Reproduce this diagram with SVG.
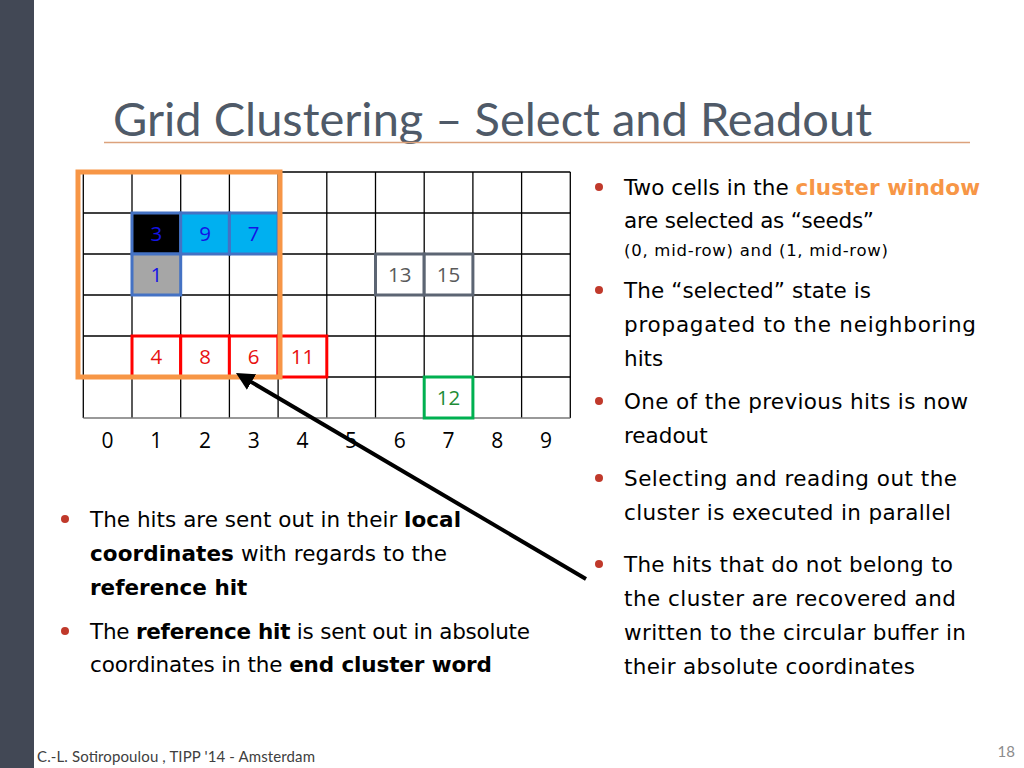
<svg xmlns="http://www.w3.org/2000/svg" width="1024" height="768" viewBox="0 0 1024 768">
<defs>
<style>
.body{font-family:"DejaVu Sans",sans-serif;font-size:21.5px;fill:#000}
.b{font-weight:bold}
.sm{font-size:16.5px}
.grid line{stroke:#000;stroke-width:1.3}
.num{font-family:"Open Sans","Liberation Sans",sans-serif;font-size:20.5px;text-anchor:middle}
.ax{font-family:"Open Sans","Liberation Sans",sans-serif;font-size:21px;text-anchor:middle;fill:#000}
.blue rect{stroke:#4472C4;stroke-width:3}
.blue text{fill:#1414E6}
.red rect{fill:#fff;stroke:#FF0000;stroke-width:3}
.red text{fill:#E81010}
.gray rect{fill:#fff;stroke:#5C6573;stroke-width:3}
.gray text{fill:#5A5A5A}
.dot{fill:#C0392B}
</style>
<marker id="ah" viewBox="0 0 10 10" refX="7" refY="5" markerWidth="4.5" markerHeight="4.5" orient="auto" markerUnits="strokeWidth">
<path d="M0,0 L10,5 L0,10 z" fill="#000"/>
</marker>
</defs>
<rect width="1024" height="768" fill="#fff"/>
<rect x="0" y="0" width="34" height="768" fill="#424855"/>
<text x="113" y="136" font-family="Lato,sans-serif" font-size="46" fill="#4F5A68" textLength="759" lengthAdjust="spacingAndGlyphs">Grid Clustering – Select and Readout</text>
<line x1="104" y1="142.5" x2="970" y2="142.5" stroke="#DCA27C" stroke-width="1.5"/>

<g id="grid" class="grid">
<line x1="83.3" y1="172" x2="83.3" y2="418"/><line x1="132" y1="172" x2="132" y2="418"/><line x1="180.7" y1="172" x2="180.7" y2="418"/><line x1="229.4" y1="172" x2="229.4" y2="418"/><line x1="278.1" y1="172" x2="278.1" y2="418"/><line x1="326.8" y1="172" x2="326.8" y2="418"/><line x1="375.5" y1="172" x2="375.5" y2="418"/><line x1="424.2" y1="172" x2="424.2" y2="418"/><line x1="472.9" y1="172" x2="472.9" y2="418"/><line x1="521.6" y1="172" x2="521.6" y2="418"/><line x1="570.3" y1="172" x2="570.3" y2="418"/>
<line x1="83.3" y1="172" x2="570.3" y2="172"/><line x1="83.3" y1="213" x2="570.3" y2="213"/><line x1="83.3" y1="254" x2="570.3" y2="254"/><line x1="83.3" y1="295" x2="570.3" y2="295"/><line x1="83.3" y1="336" x2="570.3" y2="336"/><line x1="83.3" y1="377" x2="570.3" y2="377"/><line x1="83.3" y1="418" x2="570.3" y2="418" style="stroke:#777"/>
</g>
<g id="axis">
<text class="ax" x="107.6" y="448">0</text><text class="ax" x="156.3" y="448">1</text><text class="ax" x="205" y="448">2</text><text class="ax" x="253.7" y="448">3</text><text class="ax" x="302.4" y="448">4</text><text class="ax" x="351.1" y="448">5</text><text class="ax" x="399.8" y="448">6</text><text class="ax" x="448.5" y="448">7</text><text class="ax" x="497.2" y="448">8</text><text class="ax" x="545.9" y="448">9</text>
</g>

<g id="cell-3" class="blue"><rect x="132" y="213" width="48.7" height="41" fill="#000"/><text class="num" x="156.3" y="241">3</text></g>
<g id="cell-9" class="blue"><rect x="180.7" y="213" width="48.7" height="41" fill="#00B0F0"/><text class="num" x="205" y="241">9</text></g>
<g id="cell-7" class="blue"><rect x="229.4" y="213" width="48.7" height="41" fill="#00B0F0"/><text class="num" x="253.7" y="241">7</text></g>
<g id="cell-1" class="blue"><rect x="132" y="254" width="48.7" height="41" fill="#A6A6A6"/><text class="num" x="156.3" y="282">1</text></g>
<g id="cell-13" class="gray"><rect x="375.5" y="254" width="48.7" height="41"/><text class="num" x="399.8" y="282">13</text></g>
<g id="cell-15" class="gray"><rect x="424.2" y="254" width="48.7" height="41"/><text class="num" x="448.5" y="282">15</text></g>
<g id="cell-4" class="red"><rect x="132" y="336" width="48.7" height="41"/><text class="num" x="156.3" y="364">4</text></g>
<g id="cell-8" class="red"><rect x="180.7" y="336" width="48.7" height="41"/><text class="num" x="205" y="364">8</text></g>
<g id="cell-6" class="red"><rect x="229.4" y="336" width="48.7" height="41"/><text class="num" x="253.7" y="364">6</text></g>
<g id="cell-11" class="red"><rect x="278.1" y="336" width="48.7" height="41"/><text class="num" x="302.4" y="364">11</text></g>
<g id="cell-12"><rect x="424.2" y="377" width="48.7" height="41" fill="#fff" stroke="#00B050" stroke-width="3"/><text class="num" x="448.5" y="405" fill="#1E8C36">12</text></g>

<g id="cluster-window"><rect x="78" y="172" width="202" height="205" fill="none" stroke="#F79646" stroke-width="5"/></g>

<g id="connectors">
<line x1="586" y1="579" x2="240.6" y2="375.7" stroke="#000" stroke-width="4" marker-end="url(#ah)"/>
</g>

<g id="right-text" class="body">
<circle class="dot" cx="599" cy="187" r="4"/>
<text x="624" y="195" textLength="356">Two cells in the <tspan class="b" fill="#F79646">cluster window</tspan></text>
<text x="624" y="228" textLength="250">are selected as “seeds”</text>
<text x="624" y="256" class="sm" textLength="264">(0, mid-row) and (1, mid-row)</text>
<circle class="dot" cx="599" cy="290" r="4"/>
<text x="624" y="298" textLength="247">The “selected” state is</text>
<text x="624" y="332" textLength="352">propagated to the neighboring</text>
<text x="624" y="366">hits</text>
<circle class="dot" cx="599" cy="401" r="4"/>
<text x="624" y="409" textLength="344">One of the previous hits is now</text>
<text x="624" y="443">readout</text>
<circle class="dot" cx="599" cy="478" r="4"/>
<text x="624" y="486" textLength="333">Selecting and reading out the</text>
<text x="624" y="520" textLength="327">cluster is executed in parallel</text>
<circle class="dot" cx="599" cy="564" r="4"/>
<text x="624" y="572" textLength="329">The hits that do not belong to</text>
<text x="624" y="606" textLength="332">the cluster are recovered and</text>
<text x="624" y="640" textLength="342">written to the circular buffer in</text>
<text x="624" y="674" textLength="291">their absolute coordinates</text>
</g>

<g id="left-text" class="body">
<circle class="dot" cx="65" cy="519" r="4"/>
<text x="90" y="527" textLength="371">The hits are sent out in their <tspan class="b">local</tspan></text>
<text x="90" y="561" textLength="357"><tspan class="b">coordinates</tspan> with regards to the</text>
<text x="90" y="595" class="b">reference hit</text>
<circle class="dot" cx="65" cy="631" r="4"/>
<text x="90" y="639" textLength="440">The <tspan class="b">reference hit</tspan> is sent out in absolute</text>
<text x="90" y="672" textLength="402">coordinates in the <tspan class="b">end cluster word</tspan></text>
</g>

<text x="37" y="762" font-family="Lato,sans-serif" font-size="15" fill="#404040" textLength="278">C.-L. Sotiropoulou , TIPP '14 - Amsterdam</text>
<text x="1015" y="757" font-family="Lato,sans-serif" font-size="15" fill="#8C8C8C" text-anchor="end">18</text>
</svg>
